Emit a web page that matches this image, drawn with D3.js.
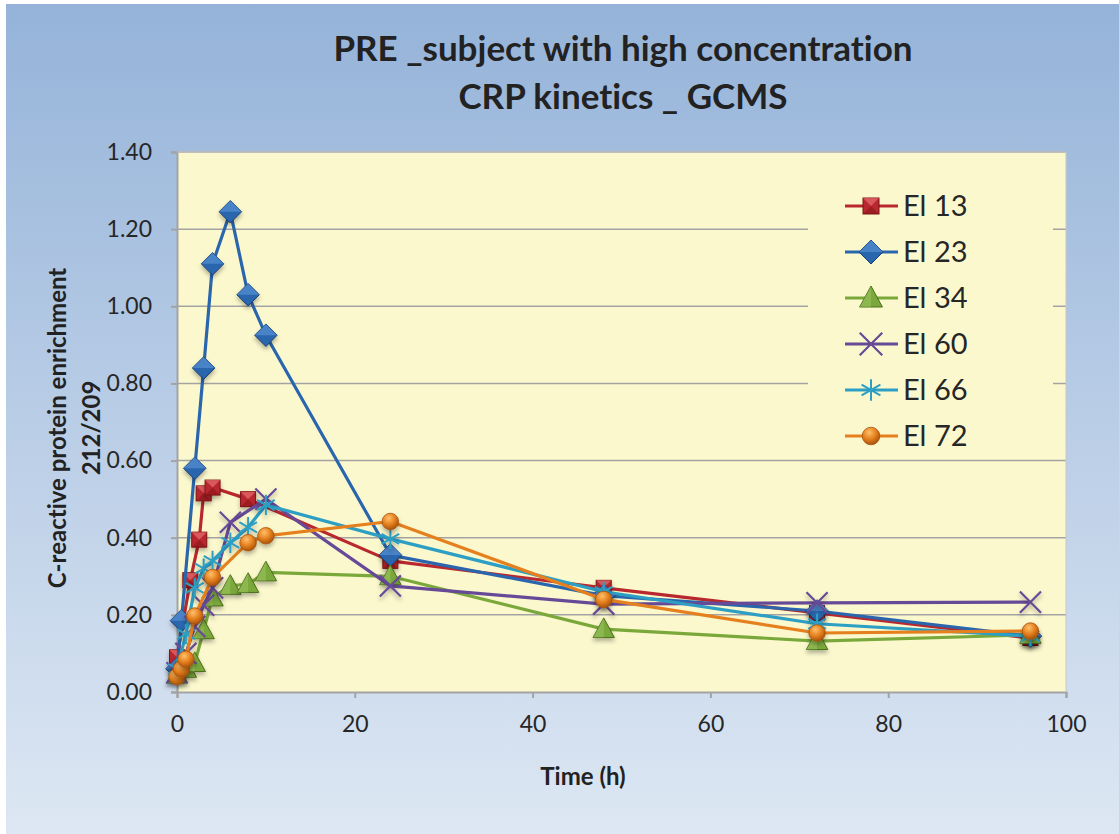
<!DOCTYPE html>
<html><head><meta charset="utf-8">
<script src="https://cdn.jsdelivr.net/npm/d3@7"></script>
<style>html,body{margin:0;padding:0;background:#fff}svg{display:block}text{font-variant-ligatures:none}</style>
</head><body>
<svg id="chart" width="1119" height="834"></svg>
<script>
// ---- data ----
const seriesNames = ["El 13", "El 23", "El 34", "El 60", "El 66", "El 72"];
const timeEl13 = [0, 1.5, 2.5, 3, 4, 8, 24, 48, 72, 96];
const valEl13  = [0.09, 0.29, 0.395, 0.515, 0.53, 0.50, 0.34, 0.27, 0.205, 0.14];
const timeEl23 = [0, 0.5, 2, 3, 4, 6, 8, 10, 24, 48, 72, 96];
const valEl23  = [0.06, 0.185, 0.58, 0.84, 1.11, 1.245, 1.03, 0.925, 0.355, 0.25, 0.21, 0.145];
const timeEl34 = [0, 1, 2, 3, 4, 6, 8, 10, 24, 48, 72, 96];
const valEl34  = [0.045, 0.06, 0.075, 0.16, 0.245, 0.275, 0.28, 0.31, 0.30, 0.163, 0.132, 0.148];
const timeEl60 = [0, 1, 2, 3, 4, 6, 10, 24, 48, 72, 96];
const valEl60  = [0.05, 0.10, 0.17, 0.225, 0.27, 0.44, 0.50, 0.275, 0.228, 0.231, 0.233];
const timeEl66 = [0, 1, 2, 3, 4, 6, 8, 10, 24, 48, 72, 96];
const valEl66  = [0.06, 0.15, 0.27, 0.32, 0.34, 0.387, 0.427, 0.485, 0.397, 0.26, 0.177, 0.145];
const timeEl72 = [0, 0.5, 1, 2, 4, 8, 10, 24, 48, 72, 96];
const valEl72  = [0.04, 0.06, 0.085, 0.197, 0.297, 0.387, 0.405, 0.442, 0.24, 0.153, 0.158];
const yTicks = [0, 0.2, 0.4, 0.6, 0.8, 1.0, 1.2, 1.4];
const xTicks = [0, 20, 40, 60, 80, 100];
const titleLines = ["PRE _subject with high concentration", "CRP kinetics _ GCMS"];
const xTitle = "Time (h)";
const yTitleLines = ["C-reactive protein enrichment", "212/209"];

const seriesTimes = [timeEl13, timeEl23, timeEl34, timeEl60, timeEl66, timeEl72];
const seriesVals = [valEl13, valEl23, valEl34, valEl60, valEl66, valEl72];
const colors = ["#b8282e", "#2a66ad", "#7aa83a", "#674a97", "#2d9fc4", "#e5801f"];
const darks  = ["#7d1214", "#173f75", "#4c6e1c", "#4a3170", "#1c7595", "#a8530b"];
const lights = ["#f0787a", "#6fa6e6", "#b2d677", "#9c86c6", "#7fd0ec", "#ffc06a"];
const markers = ["square", "diamond", "triangle", "times", "asterisk", "circle"];

(function () {
const svg = d3.select("#chart");
const W = 1119, H = 834;
const FONT = "Lato, 'Open Sans', sans-serif";
const defs = svg.append("defs");

const bg = defs.append("linearGradient").attr("id", "bg").attr("x1", 0).attr("y1", 0).attr("x2", 0).attr("y2", 1);
bg.append("stop").attr("offset", "0%").attr("stop-color", "#95b3d9");
bg.append("stop").attr("offset", "100%").attr("stop-color", "#dde7f3");

const sh = defs.append("filter").attr("id", "shadow").attr("x", "-50%").attr("y", "-50%").attr("width", "200%").attr("height", "200%");
sh.append("feDropShadow").attr("dx", 0).attr("dy", 3).attr("stdDeviation", 2).attr("flood-color", "#000").attr("flood-opacity", 0.3);

colors.forEach((c, i) => {
  const g = defs.append("radialGradient").attr("id", "mg" + i).attr("cx", "40%").attr("cy", "30%").attr("r", "70%");
  g.append("stop").attr("offset", "0%").attr("stop-color", lights[i]);
  g.append("stop").attr("offset", "55%").attr("stop-color", c);
  g.append("stop").attr("offset", "100%").attr("stop-color", darks[i]);
});

svg.append("rect").attr("x", 6).attr("y", 4).attr("width", W - 6).attr("height", H - 4).attr("fill", "url(#bg)");

const pL = 177, pR = 1066, pT = 152, pB = 692;
const x = d3.scaleLinear().domain([0, 100]).range([pL, pR]);
const y = d3.scaleLinear().domain([0, 1.4]).range([pB, pT]);

svg.append("rect").attr("x", pL).attr("y", pT).attr("width", pR - pL).attr("height", pB - pT).attr("fill", "#fbf8cd");

// gridlines
svg.append("g").selectAll("line").data(yTicks.filter(t => t > 0)).join("line")
  .attr("x1", pL).attr("x2", pR).attr("y1", d => y(d)).attr("y2", d => y(d))
  .attr("stroke", "#a3a3a3").attr("stroke-width", 1.5);

// axes
const fmt = d3.format(".2f");
const yAxis = svg.append("g").attr("transform", `translate(${pL},0)`)
  .call(d3.axisLeft(y).tickValues(yTicks).tickFormat(fmt).tickSize(6).tickPadding(19));
const xAxis = svg.append("g").attr("transform", `translate(0,${pB})`)
  .call(d3.axisBottom(x).tickValues(xTicks).tickSize(6).tickPadding(18));
[yAxis, xAxis].forEach(a => {
  a.select(".domain").attr("stroke", "#a3a3a3").attr("stroke-width", 2);
  a.selectAll(".tick line").attr("stroke", "#a3a3a3").attr("stroke-width", 2);
  a.selectAll("text").attr("fill", "#262626").style("font-family", FONT).style("font-size", "23px");
});
svg.append("line").attr("x1", pR).attr("x2", pR).attr("y1", pT).attr("y2", pB).attr("stroke", "#c8c8c8").attr("stroke-width", 1);
svg.append("line").attr("x1", pL).attr("x2", pR).attr("y1", pT).attr("y2", pT).attr("stroke", "#c8c8c8").attr("stroke-width", 1);

// marker drawing
function drawMarker(g, type, i, size) {
  const c = colors[i], dk = darks[i];
  if (type === "circle") {
    g.append("circle").attr("r", size * 0.55).attr("fill", `url(#mg${i})`).attr("stroke", dk).attr("stroke-width", 0.8);
  } else if (type === "square") {
    const s = size * 1.0;
    g.append("rect").attr("x", -s / 2).attr("y", -s / 2).attr("width", s).attr("height", s).attr("fill", c).attr("stroke", dk).attr("stroke-width", 1);
    g.append("path").attr("d", `M${-s/2},${-s/2}L0,0L${s/2},${-s/2}Z`).attr("fill", lights[i]).attr("opacity", 0.6);
    g.append("path").attr("d", `M${-s/2},${s/2}L0,0L${s/2},${s/2}Z`).attr("fill", dk).attr("opacity", 0.45);
  } else if (type === "diamond") {
    const s = size * 0.75;
    g.append("path").attr("d", `M0,${-s}L${s},0L0,${s}L${-s},0Z`).attr("fill", c).attr("stroke", dk).attr("stroke-width", 1);
    g.append("path").attr("d", `M0,${-s}L${s},0L${-s},0Z`).attr("fill", lights[i]).attr("opacity", 0.45);
  } else if (type === "triangle") {
    const s = size * 0.75;
    g.append("path").attr("d", `M0,${-s}L${s * 0.95},${s * 0.75}L${-s * 0.95},${s * 0.75}Z`).attr("fill", c).attr("stroke", dk).attr("stroke-width", 1);
    g.append("path").attr("d", `M0,${-s}L0,${s * 0.75}L${-s * 0.95},${s * 0.75}Z`).attr("fill", lights[i]).attr("opacity", 0.35);
  } else if (type === "times") {
    g.append("path").attr("d", d3.symbol(d3.symbolTimes, size * size * 1.3)()).attr("fill", "none").attr("stroke", c).attr("stroke-width", 2.2);
  } else if (type === "asterisk") {
    g.append("path").attr("d", d3.symbol(d3.symbolAsterisk, size * size * 1.3)()).attr("fill", "none").attr("stroke", c).attr("stroke-width", 2);
  }
}

const line = d3.line().x(d => x(d[0])).y(d => y(d[1]));
seriesNames.forEach((name, i) => {
  const pts = seriesTimes[i].map((t, k) => [t, seriesVals[i][k]]);
  const g = svg.append("g");
  g.append("path").datum(pts).attr("d", line).attr("fill", "none").attr("stroke", colors[i]).attr("stroke-width", 3.2).attr("stroke-linejoin", "round");
  g.selectAll("g.m").data(pts).join("g").attr("class", "m")
    .attr("transform", d => `translate(${x(d[0])},${y(d[1])})`)
    .attr("filter", "url(#shadow)")
    .each(function () { drawMarker(d3.select(this), markers[i], i, 15); });
});

// legend
const leg = svg.append("g");
leg.append("rect").attr("x", 808).attr("y", 182).attr("width", 245).attr("height", 275).attr("fill", "#fbf8cd");
seriesNames.forEach((name, i) => {
  const ly = 206 + i * 46;
  leg.append("line").attr("x1", 845).attr("x2", 898).attr("y1", ly).attr("y2", ly).attr("stroke", colors[i]).attr("stroke-width", 3.2);
  const m = leg.append("g").attr("transform", `translate(871,${ly})`);
  drawMarker(m, markers[i], i, 16);
  leg.append("text").attr("x", 903).attr("y", ly + 10).text(name)
    .attr("fill", "#262626").style("font-family", FONT).style("font-size", "29px");
});

// titles
const tt = svg.append("text").attr("text-anchor", "middle").attr("fill", "#222")
  .style("font-family", FONT).style("font-weight", "bold").style("font-size", "35px");
titleLines.forEach((t, k) => tt.append("tspan").attr("x", 623).attr("y", 61 + k * 48).text(t));

svg.append("text").attr("x", 583).attr("y", 785).attr("text-anchor", "middle").text(xTitle)
  .attr("fill", "#222").style("font-family", FONT).style("font-weight", "bold").style("font-size", "24px");

const ytx = [66, 100];
yTitleLines.forEach((t, k) => {
  svg.append("text").attr("transform", `translate(${ytx[k]},428) rotate(-90)`).attr("text-anchor", "middle").text(t)
    .attr("fill", "#222").style("font-family", FONT).style("font-weight", "bold").style("font-size", "24px");
});
})();
</script>
</body></html>
